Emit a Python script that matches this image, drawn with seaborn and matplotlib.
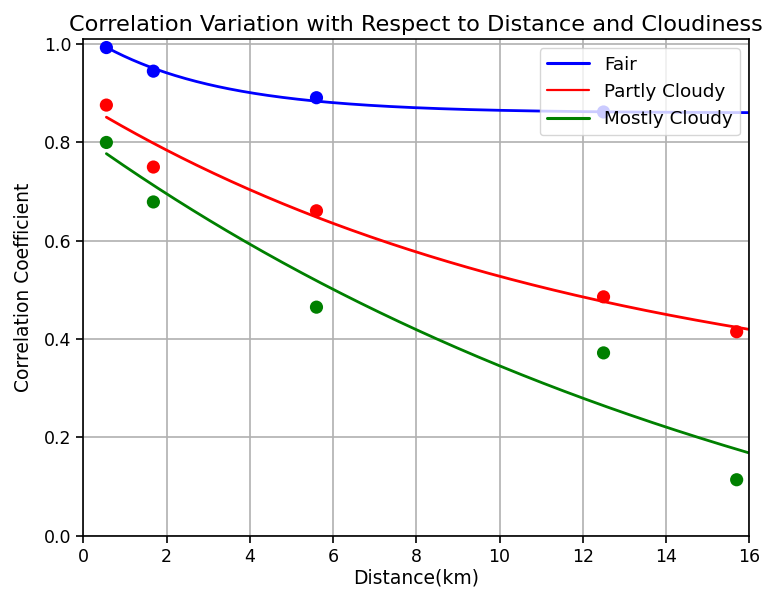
import numpy as np
import pandas as pd
import matplotlib
matplotlib.use("Agg")
import matplotlib.pyplot as plt
import seaborn as sns

# ---- data ----
distance = [0.55, 1.68, 5.6, 12.5, 15.7]
fair_distance = [0.55, 1.68, 5.6, 12.5]
fair = [0.993, 0.945, 0.891, 0.862]
partly_cloudy = [0.876, 0.750, 0.661, 0.486, 0.415]
mostly_cloudy = [0.800, 0.679, 0.465, 0.372, 0.114]
series_names = ["Fair", "Partly Cloudy", "Mostly Cloudy"]
series_colors = ["blue", "red", "green"]

# fitted-curve parameters y = a*exp(-b*x) + c
fit_a = [0.161, 0.631, 1.090]
fit_b = [0.34, 0.0813, 0.0555]
fit_c = [0.860, 0.248, -0.280]
fit_range = (0.55, 16.0)

sns.set_style("ticks")
plt.rcParams['font.family'] = ['DejaVu Sans']
for k in ["text.color", "axes.labelcolor", "xtick.color", "ytick.color"]:
    plt.rcParams[k] = "black"

fig = plt.figure(figsize=(7.66, 5.94), dpi=100)
ax = fig.add_axes([0.109, 0.098, 0.869, 0.836])

pts = pd.DataFrame({
    "Distance": fair_distance + distance + distance,
    "Corr": fair + partly_cloudy + mostly_cloudy,
    "Series": ["Fair"] * len(fair) + ["Partly Cloudy"] * len(partly_cloudy)
              + ["Mostly Cloudy"] * len(mostly_cloudy),
})

xs = np.linspace(fit_range[0], fit_range[1], 300)
curves = []
for n, a, b, c in zip(series_names, fit_a, fit_b, fit_c):
    curves.append(pd.DataFrame({"Distance": xs, "Corr": a * np.exp(-b * xs) + c, "Series": n}))
curves = pd.concat(curves)

palette = dict(zip(series_names, series_colors))
sns.lineplot(data=curves, x="Distance", y="Corr", hue="Series", palette=palette,
             linewidth=2, ax=ax, legend=True, zorder=2)
sns.scatterplot(data=pts, x="Distance", y="Corr", hue="Series", palette=palette,
                s=90, edgecolor="none", ax=ax, legend=False, zorder=3)

ax.set_xlim(0, 16)
ax.set_ylim(0, 1.01)
ax.set_xticks(np.arange(0, 17, 2))
ax.set_yticks(np.arange(0, 1.01, 0.2))
ax.set_yticklabels([f"{v:.1f}" for v in np.arange(0, 1.01, 0.2)])
ax.grid(True, color="#b0b0b0", linewidth=1.2)
ax.tick_params(labelsize=12.5, length=5, width=1.2)
for s in ax.spines.values():
    s.set_linewidth(1.2)
    s.set_color("black")

ax.set_xlabel("Distance(km)", fontsize=13.5, labelpad=2)
ax.set_ylabel("Correlation Coefficient", fontsize=13.5, labelpad=8)
ax.set_title("Correlation Variation with Respect to Distance and Cloudiness", fontsize=16.1, pad=6)

leg = ax.legend(loc="upper right", fontsize=13.2, framealpha=0.8, title=None,
                handlelength=2.3, borderaxespad=0.5)
for line, lw in zip(leg.get_lines(), [2.2, 1.6, 2.2]):
    line.set_linewidth(lw)

fig.savefig("out.png", dpi=100)
